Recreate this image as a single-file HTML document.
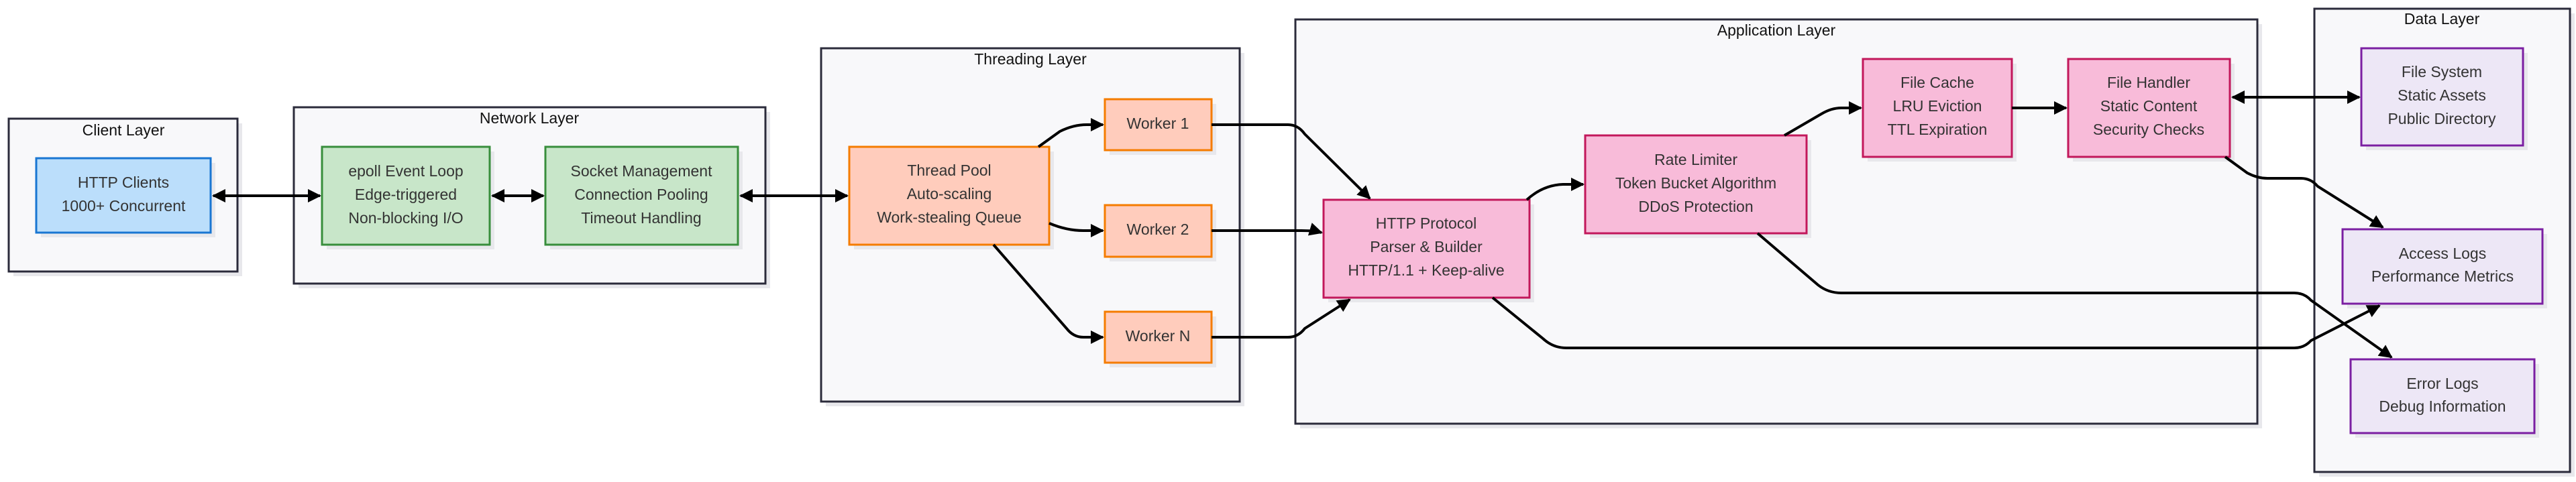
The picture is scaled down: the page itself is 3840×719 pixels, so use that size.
<!DOCTYPE html>
<html><head><meta charset="utf-8"><style>
html,body{margin:0;padding:0;background:#fff;}
svg{display:block;}
text{font-family:"Liberation Sans",sans-serif;font-size:23px;fill:#333;text-anchor:middle;dominant-baseline:middle;}
.c{fill:#f8f8fa;stroke:#2b2b3b;stroke-width:3;}
.sh{fill:#e8e8ec;}
.e{fill:none;stroke:#000;stroke-width:4;}
.t{font-size:23px;fill:#111;}
</style></head><body>
<svg width="3840" height="719" viewBox="0 0 3840 719" xmlns="http://www.w3.org/2000/svg">
<defs>
<marker id="a" viewBox="0 0 10 10" refX="9" refY="5" markerWidth="20" markerHeight="22" markerUnits="userSpaceOnUse" orient="auto-start-reverse"><path d="M0,0L10,5L0,10z" fill="#000"/></marker>
</defs>
<!-- containers -->
<rect class="sh" x="20" y="184" width="341" height="228"/>
<rect class="c" x="13" y="177" width="341" height="228"/>
<text class="t" x="184" y="196">Client Layer</text>
<rect class="sh" x="445" y="167" width="703" height="263"/>
<rect class="c" x="438" y="160" width="703" height="263"/>
<text class="t" x="789" y="178">Network Layer</text>
<rect class="sh" x="1231" y="79" width="624" height="527"/>
<rect class="c" x="1224" y="72" width="624" height="527"/>
<text class="t" x="1536" y="90">Threading Layer</text>
<rect class="sh" x="1938" y="36" width="1434" height="603"/>
<rect class="c" x="1931" y="29" width="1434" height="603"/>
<text class="t" x="2648" y="47">Application Layer</text>
<rect class="sh" x="3457" y="20" width="381" height="691"/>
<rect class="c" x="3450" y="13" width="381" height="691"/>
<text class="t" x="3640" y="30">Data Layer</text>

<!-- nodes -->
<g stroke-width="3">
<rect class="sh" x="61" y="243" width="260" height="111"/>
<rect x="54" y="236" width="260" height="111" fill="#bbdefb" stroke="#1976d2"/>
<rect class="sh" x="487" y="226" width="250" height="146"/>
<rect x="480" y="219" width="250" height="146" fill="#c8e6c9" stroke="#388e3c"/>
<rect class="sh" x="820" y="226" width="287" height="146"/>
<rect x="813" y="219" width="287" height="146" fill="#c8e6c9" stroke="#388e3c"/>
<rect class="sh" x="1273" y="226" width="298" height="146"/>
<rect x="1266" y="219" width="298" height="146" fill="#ffccbc" stroke="#f57c00"/>
<rect class="sh" x="1654" y="155" width="159" height="76"/>
<rect x="1647" y="148" width="159" height="76" fill="#ffccbc" stroke="#f57c00"/>
<rect class="sh" x="1654" y="313" width="159" height="77"/>
<rect x="1647" y="306" width="159" height="77" fill="#ffccbc" stroke="#f57c00"/>
<rect class="sh" x="1654" y="472" width="159" height="76"/>
<rect x="1647" y="465" width="159" height="76" fill="#ffccbc" stroke="#f57c00"/>
<rect class="sh" x="1980" y="305" width="307" height="146"/>
<rect x="1973" y="298" width="307" height="146" fill="#f8bbd9" stroke="#c2185b"/>
<rect class="sh" x="2370" y="209" width="330" height="146"/>
<rect x="2363" y="202" width="330" height="146" fill="#f8bbd9" stroke="#c2185b"/>
<rect class="sh" x="2784" y="95" width="222" height="146"/>
<rect x="2777" y="88" width="222" height="146" fill="#f8bbd9" stroke="#c2185b"/>
<rect class="sh" x="3090" y="95" width="241" height="146"/>
<rect x="3083" y="88" width="241" height="146" fill="#f8bbd9" stroke="#c2185b"/>
<rect class="sh" x="3527" y="79" width="241" height="145"/>
<rect x="3520" y="72" width="241" height="145" fill="#ede7f6" stroke="#7b1fa2"/>
<rect class="sh" x="3499" y="349" width="298" height="111"/>
<rect x="3492" y="342" width="298" height="111" fill="#ede7f6" stroke="#7b1fa2"/>
<rect class="sh" x="3511" y="543" width="274" height="110"/>
<rect x="3504" y="536" width="274" height="110" fill="#ede7f6" stroke="#7b1fa2"/>
</g>

<!-- labels -->
<text x="184" y="274">HTTP Clients</text><text x="184" y="309">1000+ Concurrent</text>
<text x="605" y="257">epoll Event Loop</text><text x="605" y="292">Edge-triggered</text><text x="605" y="327">Non-blocking I/O</text>
<text x="956" y="257">Socket Management</text><text x="956" y="292">Connection Pooling</text><text x="956" y="327">Timeout Handling</text>
<text x="1415" y="256">Thread Pool</text><text x="1415" y="291">Auto-scaling</text><text x="1415" y="326">Work-stealing Queue</text>
<text x="1726" y="186">Worker 1</text><text x="1726" y="344">Worker 2</text><text x="1726" y="503">Worker N</text>
<text x="2126" y="335">HTTP Protocol</text><text x="2126" y="370">Parser &amp; Builder</text><text x="2126" y="405">HTTP/1.1 + Keep-alive</text>
<text x="2528" y="240">Rate Limiter</text><text x="2528" y="275">Token Bucket Algorithm</text><text x="2528" y="310">DDoS Protection</text>
<text x="2888" y="125">File Cache</text><text x="2888" y="160">LRU Eviction</text><text x="2888" y="195">TTL Expiration</text>
<text x="3203" y="125">File Handler</text><text x="3203" y="160">Static Content</text><text x="3203" y="195">Security Checks</text>
<text x="3640" y="109">File System</text><text x="3640" y="144">Static Assets</text><text x="3640" y="179">Public Directory</text>
<text x="3641" y="380">Access Logs</text><text x="3641" y="414">Performance Metrics</text>
<text x="3641" y="574">Error Logs</text><text x="3641" y="608">Debug Information</text>

<!-- edges -->
<g class="e" marker-end="url(#a)">
<path d="M318,292H477" marker-start="url(#a)"/>
<path d="M734,292H810" marker-start="url(#a)"/>
<path d="M1104,292H1263" marker-start="url(#a)"/>
<path d="M1548,219L1580,196Q1600,186 1620,186H1644"/>
<path d="M1564,333Q1590,344 1615,344H1644"/>
<path d="M1481,365L1590,490Q1600,503 1615,503H1644"/>
<path d="M1806,186H1920Q1935,186 1945,200L2042,296"/>
<path d="M1806,344H1940Q1960,344 1970,347"/>
<path d="M1806,503H1920Q1935,503 1945,490L2012,447"/>
<path d="M2276,298Q2300,276 2330,275H2360"/>
<path d="M2660,202L2715,170Q2730,161 2745,161H2774"/>
<path d="M2999,161H3080"/>
<path d="M3328,145H3517" marker-start="url(#a)"/>
<path d="M3317,234L3350,258Q3365,266 3380,266H3430Q3445,266 3455,278L3552,339"/>
<path d="M2620,348L2710,425Q2725,437 2745,437H3420Q3435,437 3445,448L3565,533"/>
<path d="M2225,444L2300,505Q2315,519 2335,519H3420Q3435,519 3445,508L3547,456"/>
</g>
</svg>
</body></html>
